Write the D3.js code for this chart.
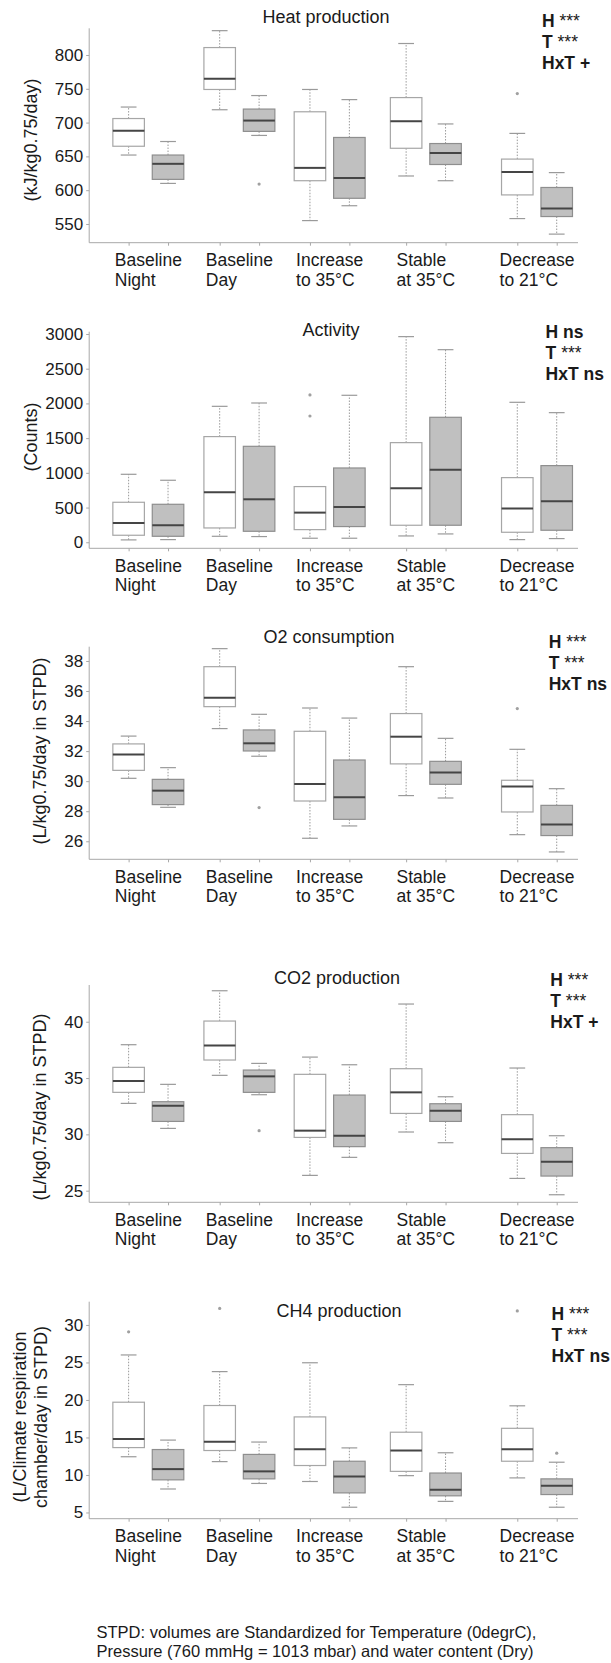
<!DOCTYPE html>
<html><head><meta charset="utf-8">
<script src="https://cdn.jsdelivr.net/npm/d3@7"></script>
<style>
body{margin:0;background:#fff}
svg{display:block}
text{font-family:"Liberation Sans",Arial,sans-serif;fill:#1a1a1a}
</style>
</head><body>
<svg id="chart" width="611" height="1663"></svg>
<script>
// ---------- data ----------
const categories = ["Baseline Night","Baseline Day","Increase to 35°C","Stable at 35°C","Decrease to 21°C"];
const categoryLines = [["Baseline","Night"],["Baseline","Day"],["Increase","to 35°C"],["Stable","at 35°C"],["Decrease","to 21°C"]];
const groupsNames = ["white","gray"];

// box stats: [lower whisker, Q1, median, Q3, upper whisker]
const heatWhite = [[652,665,688,706,723],[719,749,765,811,836],[555,614,633,716,749],[621,662,702,737,817],[558,593,627,646,684]];
const heatGray  = [[610,616,639,652,672],[681,687,703,720,740],[577,588,618,678,734],[614,638,655,669,698],[535,561,573,604,626]];
const heatOutWhite = [[],[],[],[],[743]];
const heatOutGray  = [[],[609],[],[],[]];
const heatTicks = [550,600,650,700,750,800];
const heatStats = [["H","***"],["T","***"],["HxT","+"]];

const actWhite = [[34,101,278,576,979],[86,206,720,1522,1958],[58,182,427,802,802],[91,245,778,1435,2962],[38,144,485,931,2016]];
const actGray  = [[38,86,245,547,893],[82,158,619,1382,2006],[58,226,509,1070,2117],[120,245,1046,1800,2774],[53,173,590,1104,1867]];
const actOutWhite = [[],[],[2122,1819],[],[]];
const actOutGray  = [[],[],[],[],[]];
const actTicks = [0,500,1000,1500,2000,2500,3000];
const actStats = [["H","ns"],["T","***"],["HxT","ns"]];

const o2White = [[30.19,30.72,31.77,32.48,33.0],[33.5,34.96,35.56,37.62,38.82],[26.2,28.68,29.81,33.32,34.87],[29.04,31.15,32.96,34.5,37.62],[26.44,27.95,29.64,30.06,32.12]];
const o2Gray  = [[28.26,28.44,29.37,30.12,30.9],[31.66,32.01,32.52,33.41,34.45],[27.02,27.46,28.93,31.41,34.2],[28.88,29.79,30.57,31.32,32.85],[25.29,26.38,27.11,28.39,29.5]];
const o2OutWhite = [[],[],[],[],[34.83]];
const o2OutGray  = [[],[28.24],[],[],[]];
const o2Ticks = [26,28,30,32,34,36,38];
const o2Stats = [["H","***"],["T","***"],["HxT","ns"]];

const co2White = [[32.75,33.73,34.73,35.95,37.96],[35.24,36.6,37.9,40.06,42.75],[26.36,29.73,30.33,35.33,36.86],[30.21,31.86,33.73,35.83,41.57],[26.09,28.31,29.56,31.75,35.89]];
const co2Gray  = [[30.53,31.15,32.54,32.9,34.44],[33.52,33.73,35.15,35.71,36.3],[27.96,28.91,29.88,33.49,36.18],[29.26,31.15,32.1,32.72,33.34],[24.64,26.3,27.57,28.82,29.88]];
const co2OutWhite = [[],[],[],[],[]];
const co2OutGray  = [[],[30.33],[],[],[]];
const co2Ticks = [25,30,35,40];
const co2Stats = [["H","***"],["T","***"],["HxT","+"]];

const ch4White = [[12.43,13.65,14.78,19.7,26],[11.78,13.26,14.43,19.26,23.78],[9.13,11.26,13.43,17.74,24.96],[9.91,10.48,13.26,15.7,22.04],[9.61,11.83,13.43,16.22,19.22]];
const ch4Gray  = [[8.13,9.35,10.78,13.39,14.65],[8.87,9.48,10.48,12.74,14.39],[5.7,7.61,9.78,11.83,13.61],[6.48,7.22,8.04,10.26,12.96],[5.7,7.39,8.57,9.48,11.7]];
const ch4OutWhite = [[29.09],[32.2],[],[],[31.87]];
const ch4OutGray  = [[],[],[],[],[12.91]];
const ch4Ticks = [5,10,15,20,25,30];
const ch4Stats = [["H","***"],["T","***"],["HxT","ns"]];

const footnote = ["STPD: volumes are Standardized for Temperature (0degrC),","Pressure (760 mmHg = 1013 mbar) and water content (Dry)"];

// ---------- layout ----------
const slotPos = [1, 3.31, 5.6, 8.04, 10.86];   // slot of the white box of each group
const panels = [
  {title:"Heat production", yLabel:["(kJ/kg0.75/day)"], white:heatWhite, gray:heatGray, outW:heatOutWhite, outG:heatOutGray, ticks:heatTicks, stats:heatStats,
   domain:[522.3,839.5], top:28.3, bottom:242.7, titleX:326, titleY:22.7, statsX:542, statsY:27, yLabX:[31], yLabY:140},
  {title:"Activity", yLabel:["(Counts)"], white:actWhite, gray:actGray, outW:actOutWhite, outG:actOutGray, ticks:actTicks, stats:actStats,
   domain:[-87,3033], top:331.7, bottom:548.3, titleX:331, titleY:336, statsX:545.6, statsY:338.3, yLabX:[31], yLabY:437},
  {title:"O2 consumption", yLabel:["(L/kg0.75/day in STPD)"], white:o2White, gray:o2Gray, outW:o2OutWhite, outG:o2OutGray, ticks:o2Ticks, stats:o2Stats,
   domain:[24.8,38.95], top:646.7, bottom:859.3, titleX:329, titleY:643.3, statsX:548.7, statsY:647.7, yLabX:[40], yLabY:751},
  {title:"CO2 production", yLabel:["(L/kg0.75/day in STPD)"], white:co2White, gray:co2Gray, outW:co2OutWhite, outG:co2OutGray, ticks:co2Ticks, stats:co2Stats,
   domain:[23.97,43.26], top:985, bottom:1202.3, titleX:337, titleY:984, statsX:550.3, statsY:986, yLabX:[40], yLabY:1107},
  {title:"CH4 production", yLabel:["(L/Climate respiration","chamber/day in STPD)"], white:ch4White, gray:ch4Gray, outW:ch4OutWhite, outG:ch4OutGray, ticks:ch4Ticks, stats:ch4Stats,
   domain:[4.17,33.1], top:1301.7, bottom:1518.7, titleX:339, titleY:1316.7, statsX:551.5, statsY:1320, yLabX:[19.5,41], yLabY:1417}
];

const svg = d3.select("#chart");
const x = d3.scaleLinear().domain([0, 12.4]).range([89.2, 578]);
const boxW = x(0.8) - x(0);
const capW = x(0.4) - x(0);
const axisColor = "#a8a8a8";

panels.forEach(p => {
  const g = svg.append("g");
  const y = d3.scaleLinear().domain(p.domain).range([p.bottom, p.top]);

  // y axis
  const ya = g.append("g").attr("transform", `translate(${x(0)},0)`)
    .call(d3.axisLeft(y).tickValues(p.ticks).tickSize(3).tickPadding(3).tickFormat(d3.format("d")));
  ya.select(".domain").attr("stroke", axisColor).attr("d", `M-0,${p.top}V${p.bottom}`);
  ya.selectAll(".tick line").attr("stroke", axisColor);
  ya.selectAll(".tick text").attr("font-size", 17).attr("font-family", '"Liberation Sans",Arial,sans-serif').attr("fill", "#1a1a1a");

  // x axis
  const tickSlots = [];
  slotPos.forEach(s => { tickSlots.push(s, s + 1); });
  const xa = g.append("g").attr("transform", `translate(0,${p.bottom})`)
    .call(d3.axisBottom(x).tickValues(tickSlots).tickSize(3).tickFormat(""));
  xa.select(".domain").attr("stroke", axisColor).attr("d", `M${x(0)},0H${x.range()[1]}`);
  xa.selectAll(".tick line").attr("stroke", axisColor);

  // boxes
  const series = [
    {data:p.white, out:p.outW, off:0, fill:"#ffffff", stroke:"#a6a6a6"},
    {data:p.gray,  out:p.outG, off:1, fill:"#c0c0c0", stroke:"#8e8e8e"}
  ];
  series.forEach(s => {
    s.data.forEach((b, i) => {
      const cx = x(slotPos[i] + s.off);
      const [lo, q1, med, q3, hi] = b;
      const bg = g.append("g");
      bg.append("line").attr("x1", cx).attr("x2", cx).attr("y1", y(q3)).attr("y2", y(hi))
        .attr("stroke", "#9a9a9a").attr("stroke-dasharray", "1.5,1.5");
      bg.append("line").attr("x1", cx).attr("x2", cx).attr("y1", y(q1)).attr("y2", y(lo))
        .attr("stroke", "#9a9a9a").attr("stroke-dasharray", "1.5,1.5");
      [lo, hi].forEach(v => bg.append("line").attr("x1", cx - capW/2).attr("x2", cx + capW/2)
        .attr("y1", y(v)).attr("y2", y(v)).attr("stroke", "#9a9a9a").attr("stroke-width", 1.2));
      bg.append("rect").attr("x", cx - boxW/2).attr("width", boxW)
        .attr("y", y(q3)).attr("height", y(q1) - y(q3))
        .attr("fill", s.fill).attr("stroke", s.stroke).attr("stroke-width", 1.2);
      bg.append("line").attr("x1", cx - boxW/2).attr("x2", cx + boxW/2)
        .attr("y1", y(med)).attr("y2", y(med)).attr("stroke", "#454545").attr("stroke-width", 2);
      s.out[i].forEach(v => bg.append("circle").attr("cx", cx).attr("cy", y(v)).attr("r", 1.6).attr("fill", "#a0a0a0"));
    });
  });

  // category labels (block centred under group, lines left-aligned)
  categoryLines.forEach((lines, i) => {
    const cx = x(slotPos[i] + 0.5);
    const t = g.append("text").attr("font-size", 17.5);
    lines.forEach((ln, k) => t.append("tspan").text(ln).attr("dy", k === 0 ? 0 : 19.5));
    const tspans = t.selectAll("tspan").nodes();
    const w = d3.max(tspans, n => n.getComputedTextLength());
    const left = cx - w / 2;
    t.attr("x", left).attr("y", p.bottom + 23.5);
    t.selectAll("tspan").attr("x", left);
  });

  // title
  g.append("text").attr("x", p.titleX).attr("y", p.titleY).attr("text-anchor", "middle")
    .attr("font-size", 18).text(p.title);

  // y label
  p.yLabel.forEach((ln, k) => {
    g.append("text").attr("transform", `translate(${p.yLabX[k]},${p.yLabY}) rotate(-90)`)
      .attr("text-anchor", "middle").attr("dy", "0.36em").attr("font-size", 18).text(ln);
  });

  // stats
  p.stats.forEach((st, k) => {
    const t = g.append("text").attr("x", p.statsX).attr("y", p.statsY + k * 21).attr("font-size", 17.5);
    t.append("tspan").attr("font-weight", "bold").text(st[0] + " ");
    const isStar = st[1] === "***";
    t.append("tspan").attr("font-weight", isStar ? "normal" : "bold").text(st[1]);
  });
});

// footnote
const fn = svg.append("text").attr("font-size", 16.5);
footnote.forEach((ln, k) => fn.append("tspan").attr("x", 96.5).attr("y", 1638 + k * 18.5).text(ln));
</script>
</body></html>
